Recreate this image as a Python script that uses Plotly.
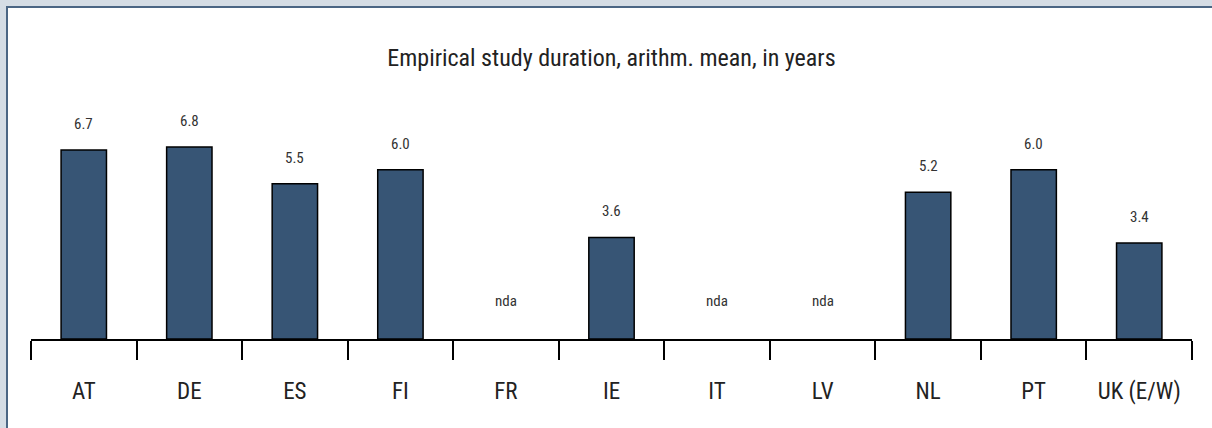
import plotly.graph_objects as go

categories = ["AT", "DE", "ES", "FI", "FR", "IE", "IT", "LV", "NL", "PT", "UK (E/W)"]
values = [6.7, 6.8, 5.5, 6.0, None, 3.6, None, None, 5.2, 6.0, 3.4]
value_labels = ["6.7", "6.8", "5.5", "6.0", "nda", "3.6", "nda", "nda", "5.2", "6.0", "3.4"]
title_text = "Empirical study duration, arithm. mean, in years"

FONT = "Roboto Condensed, Liberation Sans Narrow, Arial Narrow, DejaVu Sans Condensed, sans-serif"

W, H = 1212, 428
L, R, T, B = 31, 20, 100, 89
plot_w = W - L - R
plot_h = H - T - B

fig = go.Figure()
fig.add_trace(go.Bar(
    x=categories,
    y=values,
    marker=dict(color="#375575", line=dict(color="#000000", width=1.5)),
    width=0.43,
    hoverinfo="x+y",
))

annotations = []
for c, v, lab in zip(categories, values, value_labels):
    if v is None:
        annotations.append(dict(x=c, y=0, text=lab, showarrow=False, yanchor="middle",
                                yshift=38, font=dict(family=FONT, size=15, color="#333333")))
    else:
        annotations.append(dict(x=c, y=v, text=lab, showarrow=False, yanchor="middle",
                                yshift=26, font=dict(family=FONT, size=15, color="#333333")))

px_to_xpaper = lambda px: (px - L) / plot_w
px_to_ypaper = lambda py: (H - B - py) / plot_h
GREY = "#d5dde5"
EDGE = "#4b6684"
shapes = [
    # grey page strips (top and left)
    dict(type="rect", xref="paper", yref="paper", layer="below", line=dict(width=0),
         x0=px_to_xpaper(-5), x1=px_to_xpaper(W + 5),
         y0=px_to_ypaper(6), y1=px_to_ypaper(-5), fillcolor=GREY),
    dict(type="rect", xref="paper", yref="paper", layer="below", line=dict(width=0),
         x0=px_to_xpaper(-5), x1=px_to_xpaper(6),
         y0=px_to_ypaper(H + 5), y1=px_to_ypaper(-5), fillcolor=GREY),
    # panel border (top and left only visible)
    dict(type="line", xref="paper", yref="paper", layer="below",
         x0=px_to_xpaper(6), x1=px_to_xpaper(W + 5),
         y0=px_to_ypaper(7), y1=px_to_ypaper(7), line=dict(color=EDGE, width=2)),
    dict(type="line", xref="paper", yref="paper", layer="below",
         x0=px_to_xpaper(7), x1=px_to_xpaper(7),
         y0=px_to_ypaper(6), y1=px_to_ypaper(H + 5), line=dict(color=EDGE, width=2)),
]

fig.update_layout(
    width=W, height=H,
    margin=dict(l=L, r=R, t=T, b=B, pad=0),
    paper_bgcolor="#ffffff",
    plot_bgcolor="rgba(0,0,0,0)",
    showlegend=False,
    title=dict(text=title_text, x=0.5, xref="paper", xanchor="center",
               y=1 - 58 / H, yanchor="middle",
               font=dict(family=FONT, size=24, color="#222222")),
    xaxis=dict(
        type="category",
        showline=True, linecolor="#000000", linewidth=1.5,
        ticks="outside", tickson="boundaries", ticklen=19, tickwidth=1.5, tickcolor="#000000",
        tickfont=dict(family=FONT, size=23, color="#222222"),
        ticklabelstandoff=31,
        showgrid=False, zeroline=False,
    ),
    yaxis=dict(range=[0, 8.47], visible=False, showgrid=False, zeroline=False),
    annotations=annotations,
    shapes=shapes,
)

fig.write_html(
    "out.html", config={"displayModeBar": False},
    post_script=("document.body.style.margin='0';document.body.style.overflow='hidden';"
                 "document.documentElement.style.overflow='hidden';"),
)
